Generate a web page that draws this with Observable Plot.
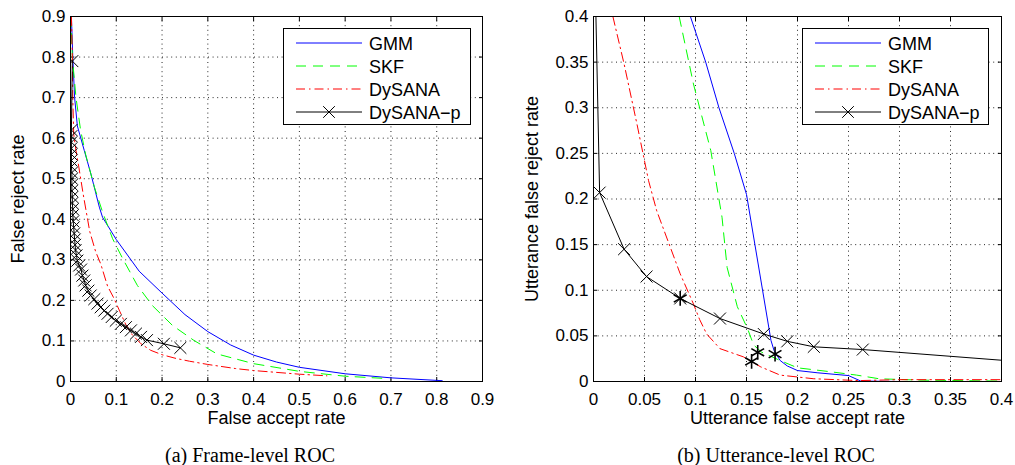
<!DOCTYPE html>
<html><head><meta charset="utf-8">
<script src="https://cdn.jsdelivr.net/npm/d3@7"></script>
<script src="https://cdn.jsdelivr.net/npm/@observablehq/plot@0.6"></script>
<style>
body{margin:0;background:#fff;}
#wrap{position:relative;width:1015px;height:465px;overflow:hidden;font-family:"Liberation Sans",Arial,sans-serif;background:#fff;}
.fig{position:absolute;top:0;}
.cap{position:absolute;top:444px;font-family:"Liberation Serif","Times New Roman",serif;font-size:20px;white-space:nowrap;transform:translateX(-50%);color:#000;}
.legend{position:absolute;background:#fff;border:1.4px solid #000;box-sizing:border-box;}
</style></head><body><div id="wrap"></div>
<script>
// ---------- data ----------
const seriesNames = ["GMM", "SKF", "DySANA", "DySANA\u2212p"];

// (a) Frame-level ROC : [false accept rate, false reject rate]
const frameGMM = [[0.002,0.9],[0.005,0.8],[0.009,0.7],[0.015,0.63],[0.03,0.57],[0.045,0.51],[0.063,0.43],[0.07,0.405],[0.1,0.35],[0.15,0.272],[0.2,0.218],[0.25,0.165],[0.3,0.123],[0.35,0.09],[0.4,0.065],[0.45,0.048],[0.5,0.035],[0.6,0.019],[0.7,0.009],[0.812,0.002]];
const frameSKF = [[0.001,0.9],[0.004,0.8],[0.012,0.7],[0.022,0.62],[0.033,0.56],[0.052,0.48],[0.07,0.418],[0.092,0.352],[0.114,0.303],[0.146,0.237],[0.179,0.187],[0.223,0.138],[0.27,0.101],[0.32,0.068],[0.4,0.044],[0.5,0.025],[0.6,0.013],[0.68,0.008]];
const frameDySANA = [[0.002,0.9],[0.004,0.8],[0.005,0.7],[0.007,0.61],[0.012,0.57],[0.018,0.53],[0.028,0.46],[0.042,0.37],[0.055,0.32],[0.066,0.29],[0.081,0.235],[0.095,0.205],[0.108,0.172],[0.121,0.14],[0.135,0.115],[0.154,0.093],[0.175,0.077],[0.2,0.066],[0.23,0.057],[0.26,0.05],[0.3,0.042],[0.36,0.032],[0.4,0.027],[0.5,0.018],[0.56,0.014]];
const frameDySANAp = [[0.004,0.79],[0.002,0.62],[0.002,0.605],[0.002,0.59],[0.002,0.575],[0.002,0.56],[0.002,0.545],[0.002,0.53],[0.003,0.515],[0.003,0.5],[0.003,0.485],[0.003,0.47],[0.004,0.455],[0.004,0.44],[0.005,0.425],[0.005,0.41],[0.006,0.395],[0.007,0.38],[0.008,0.365],[0.009,0.35],[0.010,0.337],[0.011,0.324],[0.013,0.311],[0.015,0.298],[0.019,0.286],[0.023,0.276],[0.026,0.261],[0.030,0.249],[0.033,0.237],[0.039,0.224],[0.044,0.212],[0.052,0.203],[0.059,0.192],[0.066,0.183],[0.074,0.175],[0.081,0.167],[0.090,0.159],[0.099,0.150],[0.110,0.142],[0.121,0.134],[0.132,0.126],[0.143,0.118],[0.154,0.110],[0.167,0.102],[0.204,0.093],[0.240,0.083]];
const frameXTicks = [0, 0.1, 0.2, 0.3, 0.4, 0.5, 0.6, 0.7, 0.8, 0.9];
const frameYTicks = [0, 0.1, 0.2, 0.3, 0.4, 0.5, 0.6, 0.7, 0.8, 0.9];

// (b) Utterance-level ROC
const uttGMM = [[0.095,0.4],[0.11,0.35],[0.123,0.3],[0.138,0.25],[0.15,0.205],[0.174,0.045],[0.177,0.034],[0.183,0.023],[0.19,0.017],[0.2,0.012],[0.22,0.0095],[0.25,0.0065],[0.262,0.0005],[0.3,0],[0.4,0]];
const uttSKF = [[0.084,0.4],[0.098,0.326],[0.115,0.253],[0.126,0.18],[0.131,0.125],[0.141,0.082],[0.151,0.058],[0.157,0.04],[0.165,0.032],[0.175,0.027],[0.183,0.023],[0.2,0.015],[0.23,0.011],[0.258,0.007],[0.28,0.003],[0.32,0.0015],[0.4,0.0005]];
const uttDySANA = [[0.019,0.4],[0.03,0.348],[0.043,0.28],[0.054,0.22],[0.062,0.187],[0.074,0.151],[0.085,0.118],[0.098,0.085],[0.104,0.068],[0.111,0.052],[0.124,0.036],[0.147,0.027],[0.164,0.016],[0.183,0.007],[0.216,0.003],[0.26,0.001],[0.3,0.002],[0.4,0.002]];
const uttDySANAp = [[0.0005,0.5],[0.006,0.207],[0.030,0.145],[0.052,0.115],[0.085,0.091],[0.124,0.069],[0.167,0.052],[0.19,0.044],[0.216,0.038],[0.264,0.035],[0.45,0.019]];
const uttStars = [[0.085,0.091],[0.155,0.022],[0.161,0.032],[0.178,0.030]];
const uttXTicks = [0, 0.05, 0.1, 0.15, 0.2, 0.25, 0.3, 0.35, 0.4];
const uttYTicks = [0, 0.05, 0.1, 0.15, 0.2, 0.25, 0.3, 0.35, 0.4];

// ---------- styles ----------
const seriesColors = ["#0000ff", "#00ff00", "#ff0000", "#000000"];
const seriesDash = [null, "10,7", "9,4,1.5,4", null];
const FONT = "'Liberation Sans', Arial, Helvetica, sans-serif";

function makeROC(cfg) {
  const sets = cfg.sets;
  const gridOpts = {stroke: "#000", strokeOpacity: 0.85, strokeWidth: 1, strokeDasharray: "1,3.6"};
  const marks = [
    Plot.gridX(cfg.xTicks, gridOpts),
    Plot.gridY(cfg.yTicks, gridOpts),
    Plot.axisX(cfg.xTicks, {anchor: "bottom", tickSize: 0, tickPadding: 11, label: null, fontSize: 17, tickFormat: d => String(d)}),
    Plot.axisY(cfg.yTicks, {anchor: "left", tickSize: 0, tickPadding: 5, label: null, fontSize: 17, tickFormat: d => String(d)}),
    Plot.axisX(cfg.xTicks, {anchor: "bottom", tickSize: -4, fill: "none", label: null}),
    Plot.axisX(cfg.xTicks, {anchor: "top", tickSize: -4, fill: "none", label: null}),
    Plot.axisY(cfg.yTicks, {anchor: "left", tickSize: -4, fill: "none", label: null}),
    Plot.axisY(cfg.yTicks, {anchor: "right", tickSize: -4, fill: "none", label: null})
  ];
  sets.forEach((data, i) => {
    marks.push(Plot.line(data, {x: d => d[0], y: d => d[1], stroke: seriesColors[i], strokeWidth: 1, strokeDasharray: seriesDash[i], clip: true}));
  });
  marks.push(Plot.dot(sets[3], {x: d => d[0], y: d => d[1], symbol: "times", r: 5.5, stroke: "#000", strokeWidth: 1, clip: true}));
  if (cfg.stars) marks.push(Plot.dot(cfg.stars, {x: d => d[0], y: d => d[1], symbol: "asterisk", r: 7, stroke: "#000", strokeWidth: 1.6, clip: true}));
  marks.push(Plot.frame({stroke: "#000", strokeWidth: 1}));
  marks.push(Plot.text([cfg.xLabel], {text: d => d, frameAnchor: "bottom", dy: 42, fontSize: 18}));
  marks.push(Plot.text([cfg.yLabel], {text: d => d, frameAnchor: "left", textAnchor: "middle", dx: cfg.yLabelDx, rotate: -90, fontSize: 18}));
  return Plot.plot({
    width: cfg.width, height: 440,
    marginLeft: cfg.marginLeft, marginRight: cfg.marginRight, marginTop: 16, marginBottom: 59,
    x: {domain: cfg.xDomain},
    y: {domain: cfg.yDomain},
    style: {fontFamily: FONT, fontSize: "17px", color: "#000", background: "transparent", overflow: "visible"},
    marks
  });
}

function addLegend(parent, left, top, width, height) {
  const div = document.createElement("div");
  div.className = "legend";
  Object.assign(div.style, {left: left + "px", top: top + "px", width: width + "px", height: height + "px"});
  const svg = d3.select(div).append("svg").attr("width", width - 3).attr("height", height - 3).style("display", "block");
  seriesNames.forEach((name, i) => {
    const g = svg.append("g").attr("transform", `translate(0,${14 + i * 23})`);
    g.append("line").attr("x1", 12).attr("x2", 78).attr("y1", 0).attr("y2", 0)
      .attr("stroke", seriesColors[i]).attr("stroke-width", 1).attr("stroke-dasharray", seriesDash[i]);
    if (i === 3) g.append("path").attr("d", d3.symbol(d3.symbolTimes, 90)()).attr("transform", "translate(45,0)").attr("stroke", "#000").attr("fill", "none");
    g.append("text").attr("x", 85).attr("y", 6.5).attr("font-size", 18).attr("font-family", FONT).text(name);
  });
  parent.appendChild(div);
}

const wrap = document.getElementById("wrap");

const left = document.createElement("div");
left.className = "fig"; left.style.left = "0px";
left.appendChild(makeROC({
  sets: [frameGMM, frameSKF, frameDySANA, frameDySANAp],
  xTicks: frameXTicks, yTicks: frameYTicks, xDomain: [0, 0.9], yDomain: [0, 0.9],
  width: 507, marginLeft: 70, marginRight: 25, yLabelDx: -52,
  xLabel: "False accept rate", yLabel: "False reject rate"
}));
wrap.appendChild(left);

const right = document.createElement("div");
right.className = "fig"; right.style.left = "507px";
right.appendChild(makeROC({
  sets: [uttGMM, uttSKF, uttDySANA, uttDySANAp], stars: uttStars,
  xTicks: uttXTicks, yTicks: uttYTicks, xDomain: [0, 0.4], yDomain: [0, 0.4],
  width: 508, marginLeft: 86, marginRight: 14, yLabelDx: -61,
  xLabel: "Utterance false accept rate", yLabel: "Utterance false reject rate"
}));
wrap.appendChild(right);

addLegend(wrap, 283, 28, 188, 97);
addLegend(wrap, 802, 28, 187, 97);

const capA = document.createElement("div"); capA.className = "cap"; capA.style.left = "250px"; capA.textContent = "(a)  Frame-level ROC";
const capB = document.createElement("div"); capB.className = "cap"; capB.style.left = "776px"; capB.textContent = "(b)  Utterance-level ROC";
wrap.appendChild(capA); wrap.appendChild(capB);
</script></body></html>
